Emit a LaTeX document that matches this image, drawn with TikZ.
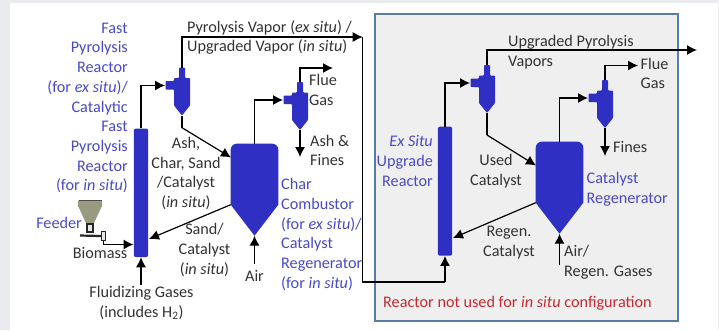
\documentclass[tikz,border=0pt]{standalone}
\usepackage{fontspec}
\setmainfont{Carlito}
\usepackage{xcolor}
\usetikzlibrary{arrows.meta,positioning}
\definecolor{vesselblue}{HTML}{2F2FC4}
\definecolor{labelblue}{HTML}{4A4AC8}
\definecolor{notered}{HTML}{C42B30}
\definecolor{boxedge}{HTML}{5A7DA3}
\definecolor{boxfill}{HTML}{EFEFEF}
\definecolor{pagegrey}{HTML}{E9EBEE}
\definecolor{txtgrey}{HTML}{333333}
\definecolor{hopperdark}{HTML}{9A9A82}
\definecolor{hopperlight}{HTML}{EAEADC}

% cyclone: name, centre x, top y
\newcommand{\cyclone}[3]{
  \fill[vesselblue,rounded corners=0.8pt] (#2-3,#3) -- (#2+3,#3) -- (#2+3,#3+10.5) -- (#2+8,#3+10.5)
    -- (#2+8,#3+38) -- (#2,#3+48) -- (#2-8,#3+38) -- (#2-8,#3+22) -- (#2-16.5,#3+22) -- (#2-16.5,#3+13.5)
    -- (#2-8,#3+13.5) -- (#2-8,#3+10.5) -- (#2-3,#3+10.5) -- cycle;
  \coordinate (#1-top) at (#2,#3);
  \coordinate (#1-bot) at (#2,#3+48);
  \coordinate (#1-in) at (#2-17,#3+18);
}
% regenerator vessel: name, centre x, top y
\newcommand{\regen}[3]{
  \fill[vesselblue] (#2-23.8,#3+61) [rounded corners=6pt] -- (#2-23.8,#3) -- (#2+23.8,#3) [sharp corners] -- (#2+23.8,#3+61)
    -- (#2,#3+92) -- cycle;
  \coordinate (#1-top) at (#2,#3);
  \coordinate (#1-bot) at (#2,#3+92);
  \coordinate (#1-out) at (#2-23.8,#3+61);
}

\begin{document}
\begin{tikzpicture}[x=1pt,y=-1pt,
  reactor/.style={fill=vesselblue,rounded corners=2pt,minimum width=14.3pt,inner sep=0pt},
  flow/.style={draw=black,line width=1.2pt,-{Latex[length=10pt,width=10pt]}},
  pipe/.style={draw=black,line width=1.2pt},
  lbl/.style={font=\fontsize{16.2}{19.7}\selectfont,text=txtgrey,inner sep=0pt,align=center},
  lblL/.style={lbl,align=left,anchor=west},
  unit/.style={lbl,text=labelblue,align=right,anchor=east},
  unitL/.style={lbl,text=labelblue,align=left,anchor=west}]
\useasboundingbox (0,0) rectangle (719,330);
\fill[pagegrey] (0,0) rectangle (719,330);
\fill[white] (10,3) rectangle (717.5,330);
\filldraw[fill=boxfill,draw=boxedge,line width=2pt] (374.7,14) rectangle (677.7,321);

% vessels
\node[reactor,minimum height=128.5pt] (fpr) at (141,192.8) {};
\node[reactor,minimum height=129pt] (usr) at (445,191.2) {};
\cyclone{cyca}{182}{67.5}
\cyclone{cycb}{300}{82}
\cyclone{cycc}{487}{65}
\cyclone{cycd}{605}{80}
\regen{comb}{254.5}{143.7}
\regen{rgn}{559.5}{141.7}

% feeder
\shade[left color=hopperdark,middle color=hopperlight,right color=hopperdark]
  (78.5,200) -- (101.5,200) -- (101.5,207) -- (93.5,224) -- (86.5,224) -- (78.5,207) -- cycle;
\draw[black!70,line width=0.8pt] (78.5,200) -- (101.5,200);
\node[draw=black!85,fill=black!10,line width=1.5pt,minimum width=6pt,minimum height=8pt,inner sep=0pt] (fdbody) at (90,228) {};
\node[draw=black!85,fill=black!10,line width=1.2pt,minimum width=4pt,minimum height=9pt,inner sep=0pt] (fdvalve) at (103.5,236) {};
\coordinate (fdleft) at (80,235.5);
\draw[black!85,line width=2.2pt] (fdleft) -- (fdvalve.west);

% junction points
\coordinate (vapend) at (362.7,37);
\coordinate (vapbend) at (445,282);
\coordinate (cycabend) at (182,127.7);
\coordinate (combfeed) at (231,157.5);
\coordinate (fprret) at (149,239);
\coordinate (flueend) at (333,68);
\coordinate (ashend) at (300,157);
\coordinate (airstart) at (254.5,264);
\coordinate (gasstart) at (141,285);
\coordinate (fprfeed) at (133.5,244.5);
\coordinate (upgend) at (697,50);
\coordinate (cycbend) at (487,135);
\coordinate (rgnfeed) at (536,165.5);
\coordinate (usrret) at (453,238);
\coordinate (flueendb) at (638,65.5);
\coordinate (finesend) at (605,156);
\coordinate (airstartb) at (559.5,265);

% connectors
\draw[flow] (fpr.north) |- (cyca-in);
\draw[flow] (cyca-top) |- (vapend);
\draw[pipe] (vapend) |- (vapbend);
\draw[flow] (vapbend) -- (usr.south);
\draw[pipe] (cyca-bot) -- (cycabend);
\draw[flow] (cycabend) -- (combfeed);
\draw[flow] (comb-out) -- (fprret);
\draw[flow] (comb-top) |- (cycb-in);
\draw[flow] (cycb-top) |- (flueend);
\draw[flow] (cycb-bot) -- (ashend);
\draw[flow] (airstart) -- (comb-bot);
\draw[flow] (gasstart) -- (fpr.south);
\draw[flow] (fdvalve.south) |- (fprfeed);
\draw[flow] (usr.north) |- (cycc-in);
\draw[flow] (cycc-top) |- (upgend);
\draw[pipe] (cycc-bot) -- (cycbend);
\draw[flow] (cycbend) -- (rgnfeed);
\draw[flow] (rgn-out) -- (usrret);
\draw[flow] (rgn-top) |- (cycd-in);
\draw[flow] (cycd-top) |- (flueendb);
\draw[flow] (cycd-bot) -- (finesend);
\draw[flow] (airstartb) -- (rgn-bot);

% left part labels
\node[unit] (fprlbl) at (128,108) {Fast\\Pyrolysis\\Reactor\\(for \textit{ex situ})/\\Catalytic\\Fast\\Pyrolysis\\Reactor\\(for \textit{in situ})};
\node[unit] (fdlbl) at (82,222.5) {Feeder};
\node[lbl,anchor=east] (biolbl) at (127.5,253) {Biomass};
\node[lbl] (gaslbl) at (141.5,303) {Fluidizing Gases\\(includes H\textsubscript{2})};
\node[lblL] (vaplbl) at (187,37.5) {Pyrolysis Vapor (\textit{ex situ}) /\\Upgraded Vapor (\textit{in situ})};
\node[lbl] (ashlbl) at (186,173.5) {Ash,\\Char, Sand\\/Catalyst\\(\textit{in situ})};
\node[lbl] (sandlbl) at (204.5,250) {Sand/\\Catalyst\\(\textit{in situ})};
\node[lbl] (airlbl) at (254.5,276) {Air};
\node[lblL] (fluelbl) at (309,90) {Flue\\Gas};
\node[lblL] (finelbl) at (310,150.5) {Ash \&\\Fines};
\node[unitL] (comblbl) at (281,234.5) {Char\\Combustor\\(for \textit{ex situ})/\\Catalyst\\Regenerator\\(for \textit{in situ})};

% right part labels
\node[unit] (usrlbl) at (433,161) {\textit{Ex Situ}\\Upgrade\\Reactor};
\node[lblL] (upglbl) at (508,52) {Upgraded Pyrolysis\\Vapors};
\node[lblL] (fluelblb) at (640.5,73.5) {Flue\\Gas};
\node[lblL] (finelblb) at (613,147) {Fines};
\node[lbl] (usedlbl) at (496,171) {Used\\Catalyst};
\node[unitL] (rgnlbl) at (586.5,189.2) {Catalyst\\Regenerator};
\node[lbl] (retlbl) at (509,242.5) {Regen.\\Catalyst};
\node[lblL] (airlblb) at (564,262) {Air/\\Regen. Gases};
\node[lblL,text=notered] (notelbl) at (383,303) {Reactor not used for \textit{in situ} configuration};
\end{tikzpicture}
\end{document}
